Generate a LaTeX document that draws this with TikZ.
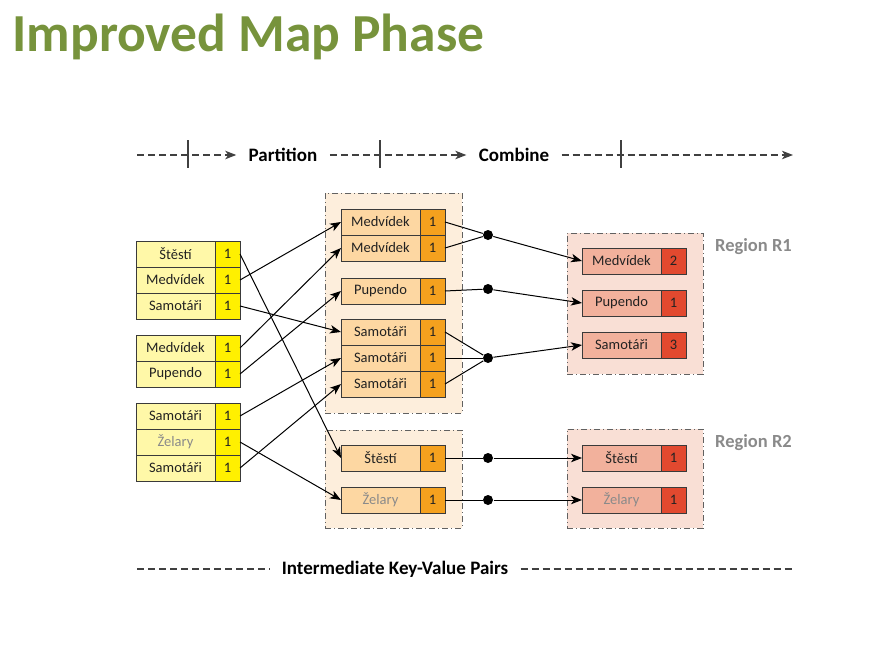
\documentclass[tikz,border=0pt]{standalone}
\usepackage{fontspec}
\setmainfont{Carlito}
\usetikzlibrary{arrows.meta,positioning}
\definecolor{titlegreen}{HTML}{77933C}
\definecolor{boxline}{HTML}{3A3A3A}
\definecolor{boxtext}{HTML}{222222}
\definecolor{faded}{HTML}{8A8A8A}
\definecolor{lkey}{HTML}{FFF8A8}
\definecolor{lval}{HTML}{FFF000}
\definecolor{mgroup}{HTML}{FDEEDC}
\definecolor{mkey}{HTML}{FDD7A2}
\definecolor{mval}{HTML}{F5A11E}
\definecolor{rgroup}{HTML}{F9DFD5}
\definecolor{rkey}{HTML}{F2B19C}
\definecolor{rval}{HTML}{E2492F}

\begin{document}
\begin{tikzpicture}[x=1pt,y=-1pt,>={Stealth[length=11pt,width=8.5pt,inset=3pt]},
    node distance=0pt,line width=1pt,
    box/.style={draw=boxline,outer sep=0pt,inner sep=0pt,minimum height=26pt,
                text=boxtext,font=\fontsize{14.5}{16}\selectfont},
    key/.style={box,minimum width=79pt},
    count/.style={box,minimum width=25pt},
    left key/.style={key,fill=lkey},   left count/.style={count,fill=lval},
    mid key/.style={key,fill=mkey},    mid count/.style={count,fill=mval},
    right key/.style={key,fill=rkey},  right count/.style={count,fill=rval},
    group/.style={draw=boxline!80,dash pattern=on 6pt off 3pt on 1pt off 3pt,
                  outer sep=0pt,inner sep=0pt},
    joint/.style={circle,fill=black,inner sep=0pt,minimum size=10pt},
    phase/.style={inner xsep=12pt,font=\fontsize{19}{21}\selectfont\bfseries},
    region label/.style={text=faded,font=\fontsize{18.5}{20}\selectfont\bfseries},
    timeline/.style={draw=black!75,line width=1.2pt,dash pattern=on 7pt off 4pt},
    tick/.style={draw=black!75,line width=1.2pt}]
  \useasboundingbox (0,0) rectangle (887,648);

  % title
  \node[anchor=base west,inner sep=0pt,text=titlegreen,
        font=\fontsize{53.5}{56}\selectfont\bfseries] (title) at (12,51) {Improved Map Phase};

  % phases
  \node[phase] (part) at (283,155) {Partition};
  \node[phase] (comb) at (514,155) {Combine};
  \coordinate (t0) at (137,155);
  \coordinate (t1) at (793,155);
  \draw[timeline,->] (t0) -- (part);
  \draw[timeline,->] (part) -- (comb);
  \draw[timeline,->] (comb) -- (t1);
  \draw[tick] (188,140) -- (188,168);
  \draw[tick] (380,140) -- (380,168);
  \draw[tick] (621,140) -- (621,168);

  % groups and regions
  \node[group,fill=mgroup,minimum width=137pt,minimum height=220pt] (g1) at (393.5,303) {};
  \node[group,fill=mgroup,minimum width=137pt,minimum height=98pt] (g2) at (393.5,479) {};
  \node[group,fill=rgroup,minimum width=136pt,minimum height=141pt] (g3) at (635,303.5) {};
  \node[group,fill=rgroup,minimum width=136pt,minimum height=99pt] (g4) at (635,478.5) {};
  \node[region label] (rl1) at (753.5,247) {Region R1};
  \node[region label] (rl2) at (753.5,443) {Region R2};

  % map output
  \node[left key] (l1) at (175.5,254) {Štěstí};
  \node[left key] (l2) [below=of l1] {Medvídek};
  \node[left key] (l3) [below=of l2] {Samotáři};
  \node[left key] (l4) at (175.5,348) {Medvídek};
  \node[left key] (l5) [below=of l4] {Pupendo};
  \node[left key] (l6) at (175.5,416) {Samotáři};
  \node[left key,text=faded] (l7) [below=of l6] {Želary};
  \node[left key] (l8) [below=of l7] {Samotáři};
  \node[left count] (l1c) [right=of l1] {1};
  \node[left count] (l2c) [right=of l2] {1};
  \node[left count] (l3c) [right=of l3] {1};
  \node[left count] (l4c) [right=of l4] {1};
  \node[left count] (l5c) [right=of l5] {1};
  \node[left count] (l6c) [right=of l6] {1};
  \node[left count] (l7c) [right=of l7] {1};
  \node[left count] (l8c) [right=of l8] {1};

  % partitioned
  \node[mid key] (m1) at (380.5,222) {Medvídek};
  \node[mid key] (m2) [below=of m1] {Medvídek};
  \node[mid key] (m3) at (380.5,291) {Pupendo};
  \node[mid key] (m4) at (380.5,332) {Samotáři};
  \node[mid key] (m5) [below=of m4] {Samotáři};
  \node[mid key] (m6) [below=of m5] {Samotáři};
  \node[mid key] (m7) at (380.5,458) {Štěstí};
  \node[mid key,text=faded] (m8) at (380.5,500) {Želary};
  \node[mid count] (m1c) [right=of m1] {1};
  \node[mid count] (m2c) [right=of m2] {1};
  \node[mid count] (m3c) [right=of m3] {1};
  \node[mid count] (m4c) [right=of m4] {1};
  \node[mid count] (m5c) [right=of m5] {1};
  \node[mid count] (m6c) [right=of m6] {1};
  \node[mid count] (m7c) [right=of m7] {1};
  \node[mid count] (m8c) [right=of m8] {1};

  % combined
  \node[right key] (r1) at (621.5,261) {Medvídek};
  \node[right key] (r2) at (621.5,303) {Pupendo};
  \node[right key] (r3) at (621.5,345) {Samotáři};
  \node[right key] (r4) at (621.5,458) {Štěstí};
  \node[right key,text=faded] (r5) at (621.5,500) {Želary};
  \node[right count] (r1c) [right=of r1] {2};
  \node[right count] (r2c) [right=of r2] {1};
  \node[right count] (r3c) [right=of r3] {3};
  \node[right count] (r4c) [right=of r4] {1};
  \node[right count] (r5c) [right=of r5] {1};

  \node[joint] (j1) at (488,235) {};
  \node[joint] (j2) at (488,289) {};
  \node[joint] (j3) at (488,358) {};
  \node[joint] (j4) at (488,458) {};
  \node[joint] (j5) at (488,500) {};

  \path[->]
    (l1c.east) edge (m7.west)
    (l2c.east) edge (m1.west)
    (l3c.east) edge (m4.west)
    (l4c.east) edge (m2.west)
    (l5c.east) edge (m3.west)
    (l6c.east) edge (m5.west)
    (l7c.east) edge (m8.west)
    (l8c.east) edge (m6.west);
  \path
    (m1c.east) edge (j1)
    (m2c.east) edge (j1)
    (m3c.east) edge (j2)
    (m4c.east) edge (j3)
    (m5c.east) edge (j3)
    (m6c.east) edge (j3)
    (m7c.east) edge (j4)
    (m8c.east) edge (j5);
  \path[->]
    (j1) edge (r1.west)
    (j2) edge (r2.west)
    (j3) edge (r3.west)
    (j4) edge (r4.west)
    (j5) edge (r5.west);

  % bottom
  \node[inner xsep=12pt,font=\fontsize{19}{21}\selectfont\bfseries] (kv) at (395,569)
    {Intermediate Key-Value Pairs};
  \coordinate (b0) at (137,569);
  \coordinate (b1) at (793,569);
  \draw[timeline] (b0) -- (kv) -- (b1);
\end{tikzpicture}
\end{document}
